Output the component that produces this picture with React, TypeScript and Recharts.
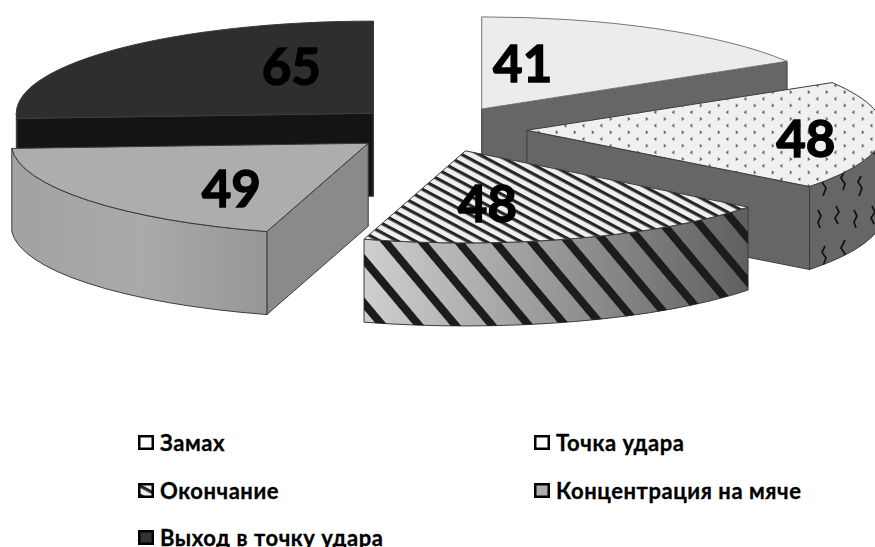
import React from "react";
import { PieChart, Pie, Legend } from "recharts";

const categories = ["Замах", "Точка удара", "Окончание", "Концентрация на мяче", "Выход в точку удара"];
const values = [41, 48, 48, 49, 65];

// the last slice has to be painted first, it sits behind its neighbour
const order = [4, 0, 1, 2, 3];
const pieData = order.map((i) => ({ name: categories[i], value: values[i], source: i }));
const total = values.reduce((a, b) => a + b, 0);
const startAngle = 90 + (values[4] / total) * 360;

const CX = 438;
const CY = 129;
const RADIUS = 357;
const TILT = 0.258;
const DEPTH = 83;
const EXPLODE = 89;

const FONT = "Lato, 'Open Sans', sans-serif";

const looks = [
  { top: "#ececec", face: "#666666", outer: "#666666", overlay: "none" },
  { top: "url(#dots)", face: "#666666", outer: "#666666", overlay: "url(#squiggle)" },
  { top: "url(#stripeTop)", face: "#666666", outer: "url(#fadeStripe)", overlay: "url(#stripeSide)" },
  { top: "#adadad", face: "#8a8a8a", outer: "url(#fadeGray)", overlay: "none" },
  { top: "#2e2e2e", face: "#141414", outer: "#141414", overlay: "none" },
];

// where Excel put the value, measured from the slice's apex
const labelOffsets = [
  [41, -46],
  [279, 7],
  [22, 52],
  [-137, 44],
  [-82, -48],
];

const rad = (deg: number) => (deg * Math.PI) / 180;

const apexOf = (cx: number, cy: number, midAngle: number) => ({
  x: cx + EXPLODE * Math.cos(rad(midAngle)),
  y: cy - EXPLODE * TILT * Math.sin(rad(midAngle)),
});

const Slice3D = (props: any) => {
  const { cx, cy, outerRadius, startAngle: from, endAngle: to, payload } = props;
  const mid = (from + to) / 2;
  const apex = apexOf(cx, cy, mid);
  const look = looks[payload.source];
  const rx = outerRadius;
  const ry = outerRadius * TILT;

  // clockwise from 12 o'clock, easier for working out which walls face us
  const t0 = (90 - from + 720) % 360;
  const t1 = t0 + (from - to);
  const at = (t: number, drop = 0) => ({
    x: apex.x + rx * Math.sin(rad(t)),
    y: apex.y - ry * Math.cos(rad(t)) + drop,
  });
  const wall = (t: number) => {
    const p = at(t);
    const q = at(t, DEPTH);
    return `M${apex.x},${apex.y} L${p.x},${p.y} L${q.x},${q.y} L${apex.x},${apex.y + DEPTH} Z`;
  };

  const s = at(t0);
  const e = at(t1);
  const top = `M${apex.x},${apex.y} L${s.x},${s.y} A${rx},${ry} 0 0 1 ${e.x},${e.y} Z`;

  const a = Math.max(t0, 90);
  const b = Math.min(t1, 270);
  let outer = "";
  if (b > a) {
    const p = at(a);
    const q = at(b);
    const q2 = at(b, DEPTH);
    const p2 = at(a, DEPTH);
    outer = `M${p.x},${p.y} A${rx},${ry} 0 0 1 ${q.x},${q.y} L${q2.x},${q2.y} A${rx},${ry} 0 0 0 ${p2.x},${p2.y} Z`;
  }

  const stroke = "#3c3c3c";
  return (
    <g>
      {Math.cos(rad(t0 - 90)) < 0 && <path d={wall(t0)} fill={look.face} stroke={stroke} />}
      {Math.cos(rad(t1 + 90)) < 0 && <path d={wall(t1)} fill={look.face} stroke={stroke} />}
      {outer && <path d={outer} fill={look.outer} stroke={stroke} />}
      {outer && look.overlay !== "none" && <path d={outer} fill={look.overlay} stroke="none" />}
      <path d={top} fill={look.top} stroke={payload.source === 0 ? "#777777" : stroke} />
    </g>
  );
};

const renderValue = (props: any) => {
  const { cx, cy, midAngle, index, value } = props;
  const apex = apexOf(cx, cy, midAngle);
  const [dx, dy] = labelOffsets[pieData[index].source];
  return (
    <text
      x={apex.x + dx}
      y={apex.y + dy}
      textAnchor="middle"
      dominantBaseline="central"
      fontFamily={FONT}
      fontWeight={700}
      fontSize={51}
      fill="#000000"
      stroke="#000000"
      strokeWidth={1.4}
    >
      {value}
    </text>
  );
};

const swatches = ["#ffffff", "#ffffff", "url(#stripeTop)", "#adadad", "#333333"];

const LegendBox = () => (
  <div
    style={{
      display: "grid",
      gridTemplateColumns: "396px 300px",
      rowGap: 0,
      fontFamily: FONT,
      fontWeight: 700,
      fontSize: 22,
      letterSpacing: 0.55,
      WebkitTextStroke: "0.3px #000",
      color: "#000",
    }}
  >
    {categories.map((name, i) => (
      <div key={name} style={{ display: "flex", alignItems: "center", height: 47.5, whiteSpace: "nowrap" }}>
        <svg width={16} height={15} style={{ marginRight: 6, flex: "none" }}>
          <rect x={1.25} y={1.25} width={13.5} height={12.5} fill={swatches[i]} stroke="#000" strokeWidth={2.5} />
        </svg>
        {name}
      </div>
    ))}
  </div>
);

export default function App() {
  return (
    <div style={{ position: "absolute", left: 0, top: 0, width: 875, height: 547, overflow: "hidden", background: "#fff" }}>
      <PieChart width={875} height={547} margin={{ top: 0, right: 0, bottom: 0, left: 0 }}>
        <defs>
          <pattern id="dots" width={18} height={13.4} patternUnits="userSpaceOnUse" patternTransform="translate(3,2)">
            <rect width={18} height={13.4} fill="#f0f0f0" />
            <path d="M5.5,1.6 L3.7,3 L5.5,4.4" fill="none" stroke="#5a5a5a" strokeWidth={1.2} />
            <path d="M12.7,8.3 L14.5,9.7 L12.7,11.1" fill="none" stroke="#5a5a5a" strokeWidth={1.2} />
          </pattern>
          <pattern id="squiggle" width={36} height={70} patternUnits="userSpaceOnUse" patternTransform="translate(2,-6)">
            <path
              d="M6,2 L9,8 L5,14 L8,20 M24,6 L27,12 L24,18 L26,24 M15,36 L11,44 L15,50 L13,56 M31,42 L28,48 L32,54 L29,62"
              fill="none"
              stroke="#111"
              strokeWidth={1.7}
            />
          </pattern>
          <pattern id="stripeTop" width={8.2} height={8.2} patternUnits="userSpaceOnUse" patternTransform="rotate(28)">
            <rect width={8.2} height={8.2} fill="#efefef" />
            <rect width={8.2} height={3.2} fill="#262626" />
          </pattern>
          <pattern id="stripeSide" width={28} height={28} patternUnits="userSpaceOnUse" patternTransform="translate(5,0) rotate(50)">
            <rect width={28} height={8} fill="#1c1c1c" />
          </pattern>
          <linearGradient id="fadeStripe" x1="0" y1="0" x2="1" y2="0">
            <stop offset="0" stopColor="#cfcfcf" />
            <stop offset="1" stopColor="#5f5f5f" />
          </linearGradient>
          <linearGradient id="fadeGray" x1="0" y1="0" x2="1" y2="0">
            <stop offset="0" stopColor="#a2a2a2" />
            <stop offset="0.5" stopColor="#aaaaaa" />
            <stop offset="1" stopColor="#979797" />
          </linearGradient>
        </defs>
        <Pie
          data={pieData}
          dataKey="value"
          nameKey="name"
          cx={CX}
          cy={CY}
          outerRadius={RADIUS}
          innerRadius={0}
          startAngle={startAngle}
          endAngle={startAngle - 360}
          shape={Slice3D}
          label={renderValue}
          labelLine={false}
          isAnimationActive={false}
        />
        <Legend
          content={LegendBox}
          wrapperStyle={{ position: "absolute", left: 138, top: 419, width: 720, bottom: "auto" }}
        />
      </PieChart>
    </div>
  );
}
